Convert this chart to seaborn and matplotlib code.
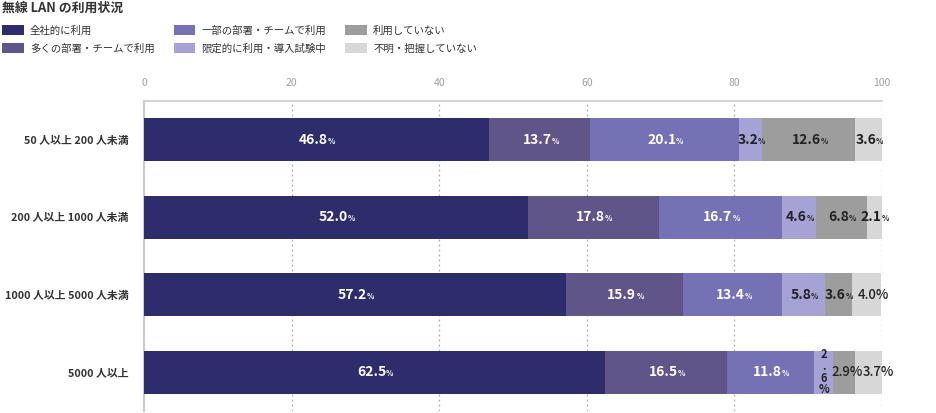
import numpy as np
import pandas as pd
import seaborn as sns
import matplotlib
matplotlib.use('Agg')
import matplotlib.pyplot as plt
from matplotlib.patches import Patch
from matplotlib.transforms import offset_copy

# data
categories = ['50 人以上 200 人未満', '200 人以上 1000 人未満', '1000 人以上 5000 人未満', '5000 人以上']
series_names = ['全社的に利用', '多くの部署・チームで利用', '一部の部署・チームで利用',
                '限定的に利用・導入試験中', '利用していない', '不明・把握していない']
zensha = [46.8, 52.0, 57.2, 62.5]
ooku = [13.7, 17.8, 15.9, 16.5]
ichibu = [20.1, 16.7, 13.4, 11.8]
gentei = [3.2, 4.6, 5.8, 2.6]
riyou_nashi = [12.6, 6.8, 3.6, 2.9]
fumei = [3.6, 2.1, 4.0, 3.7]
xticks = [0, 20, 40, 60, 80, 100]

colors = ['#2e2d6b', '#5f5589', '#7571b5', '#a7a2d6', '#9d9d9d', '#d7d7d7']
text_colors = ['white', 'white', 'white', '#222222', '#222222', '#222222']

sns.set_style('white')
plt.rcParams['font.family'] = ['Noto Sans CJK JP', 'DejaVu Sans']

values = np.array([zensha, ooku, ichibu, gentei, riyou_nashi, fumei])
cum = np.cumsum(values, axis=0)

fig = plt.figure(figsize=(9.36, 4.13), dpi=100)
ax = fig.add_axes([144/936, 1 - 411/413, 738/936, 310/413])

df = pd.DataFrame({'cat': categories})
# stacked bars: draw cumulative totals from the back to the front
for j in range(len(series_names) - 1, -1, -1):
    df['v'] = cum[j]
    sns.barplot(data=df, x='v', y='cat', orient='h', color=colors[j], saturation=1,
                width=0.55, errorbar=None, linewidth=0, ax=ax, zorder=3)

ax.set_xlim(0, 100)
ax.set_ylim(3.5, -0.5)
ax.set_xlabel('')
ax.set_ylabel('')
ax.set_xticks(xticks)
ax.xaxis.tick_top()
ax.tick_params(axis='x', length=0, pad=9, labelsize=7.5, labelcolor='#a0a0a0')
ax.tick_params(axis='y', length=0, pad=11, labelsize=7.8, labelcolor='#333333')
for lab in ax.get_yticklabels():
    lab.set_fontweight('bold')
for v in xticks[1:]:
    ax.axvline(v, color='#aaaaaa', lw=0.9, ls=(0, (1.5, 2.5)), zorder=1)
for s in ['right', 'bottom']:
    ax.spines[s].set_visible(False)
ax.spines['left'].set_color('#cccccc')
ax.spines['left'].set_linewidth(1.6)
ax.spines['top'].set_color('#cccccc')
ax.spines['top'].set_linewidth(1.2)

# segment labels
big_pct = {(2, 5): 7, (3, 4): 3, (3, 5): 10}
for i in range(len(categories)):
    for j in range(len(series_names)):
        val = values[j][i]
        cx = cum[j][i] - val / 2
        num = f'{val:.1f}'
        if (i, j) == (3, 3):
            ax.text(cx, i, '2\n.\n6\n%', ha='center', va='center', fontsize=8,
                    linespacing=0.85, color='#222222', fontweight='bold', zorder=5)
            continue
        if (i, j) in big_pct:
            tr = offset_copy(ax.transData, fig=fig, x=big_pct[(i, j)], y=0, units='dots')
            ax.text(cx, i, num + '%', ha='center', va='center', fontsize=9.5,
                    color=text_colors[j], fontweight='medium', transform=tr, zorder=5)
            continue
        tr = offset_copy(ax.transData, fig=fig, x=-3, y=0, units='dots')
        t = ax.text(cx, i, num, ha='center', va='center', fontsize=10,
                    color=text_colors[j], fontweight='bold', transform=tr, zorder=5)
        ax.annotate('%', xy=(1, 0.08), xycoords=t, ha='left', va='bottom', fontsize=5.5,
                    color=text_colors[j], fontweight='bold', zorder=5)

fig.text(2/936, 1 - 8/413, '無線 LAN の利用状況', ha='left', va='center', fontsize=9.3,
         fontweight='bold', color='#333333')

handles = [Patch(facecolor=c, edgecolor='none') for c in colors]
leg = fig.legend(handles, series_names, loc='upper left', bbox_to_anchor=(2/936, 1 - 25/413),
                 ncol=3, frameon=False, fontsize=7.5, handlelength=2.1, handleheight=1.05,
                 handletextpad=0.6, columnspacing=1.8, labelspacing=0.75, borderpad=0,
                 borderaxespad=0)
for txt in leg.get_texts():
    txt.set_color('#333333')

fig.savefig('out.png', dpi=100)
